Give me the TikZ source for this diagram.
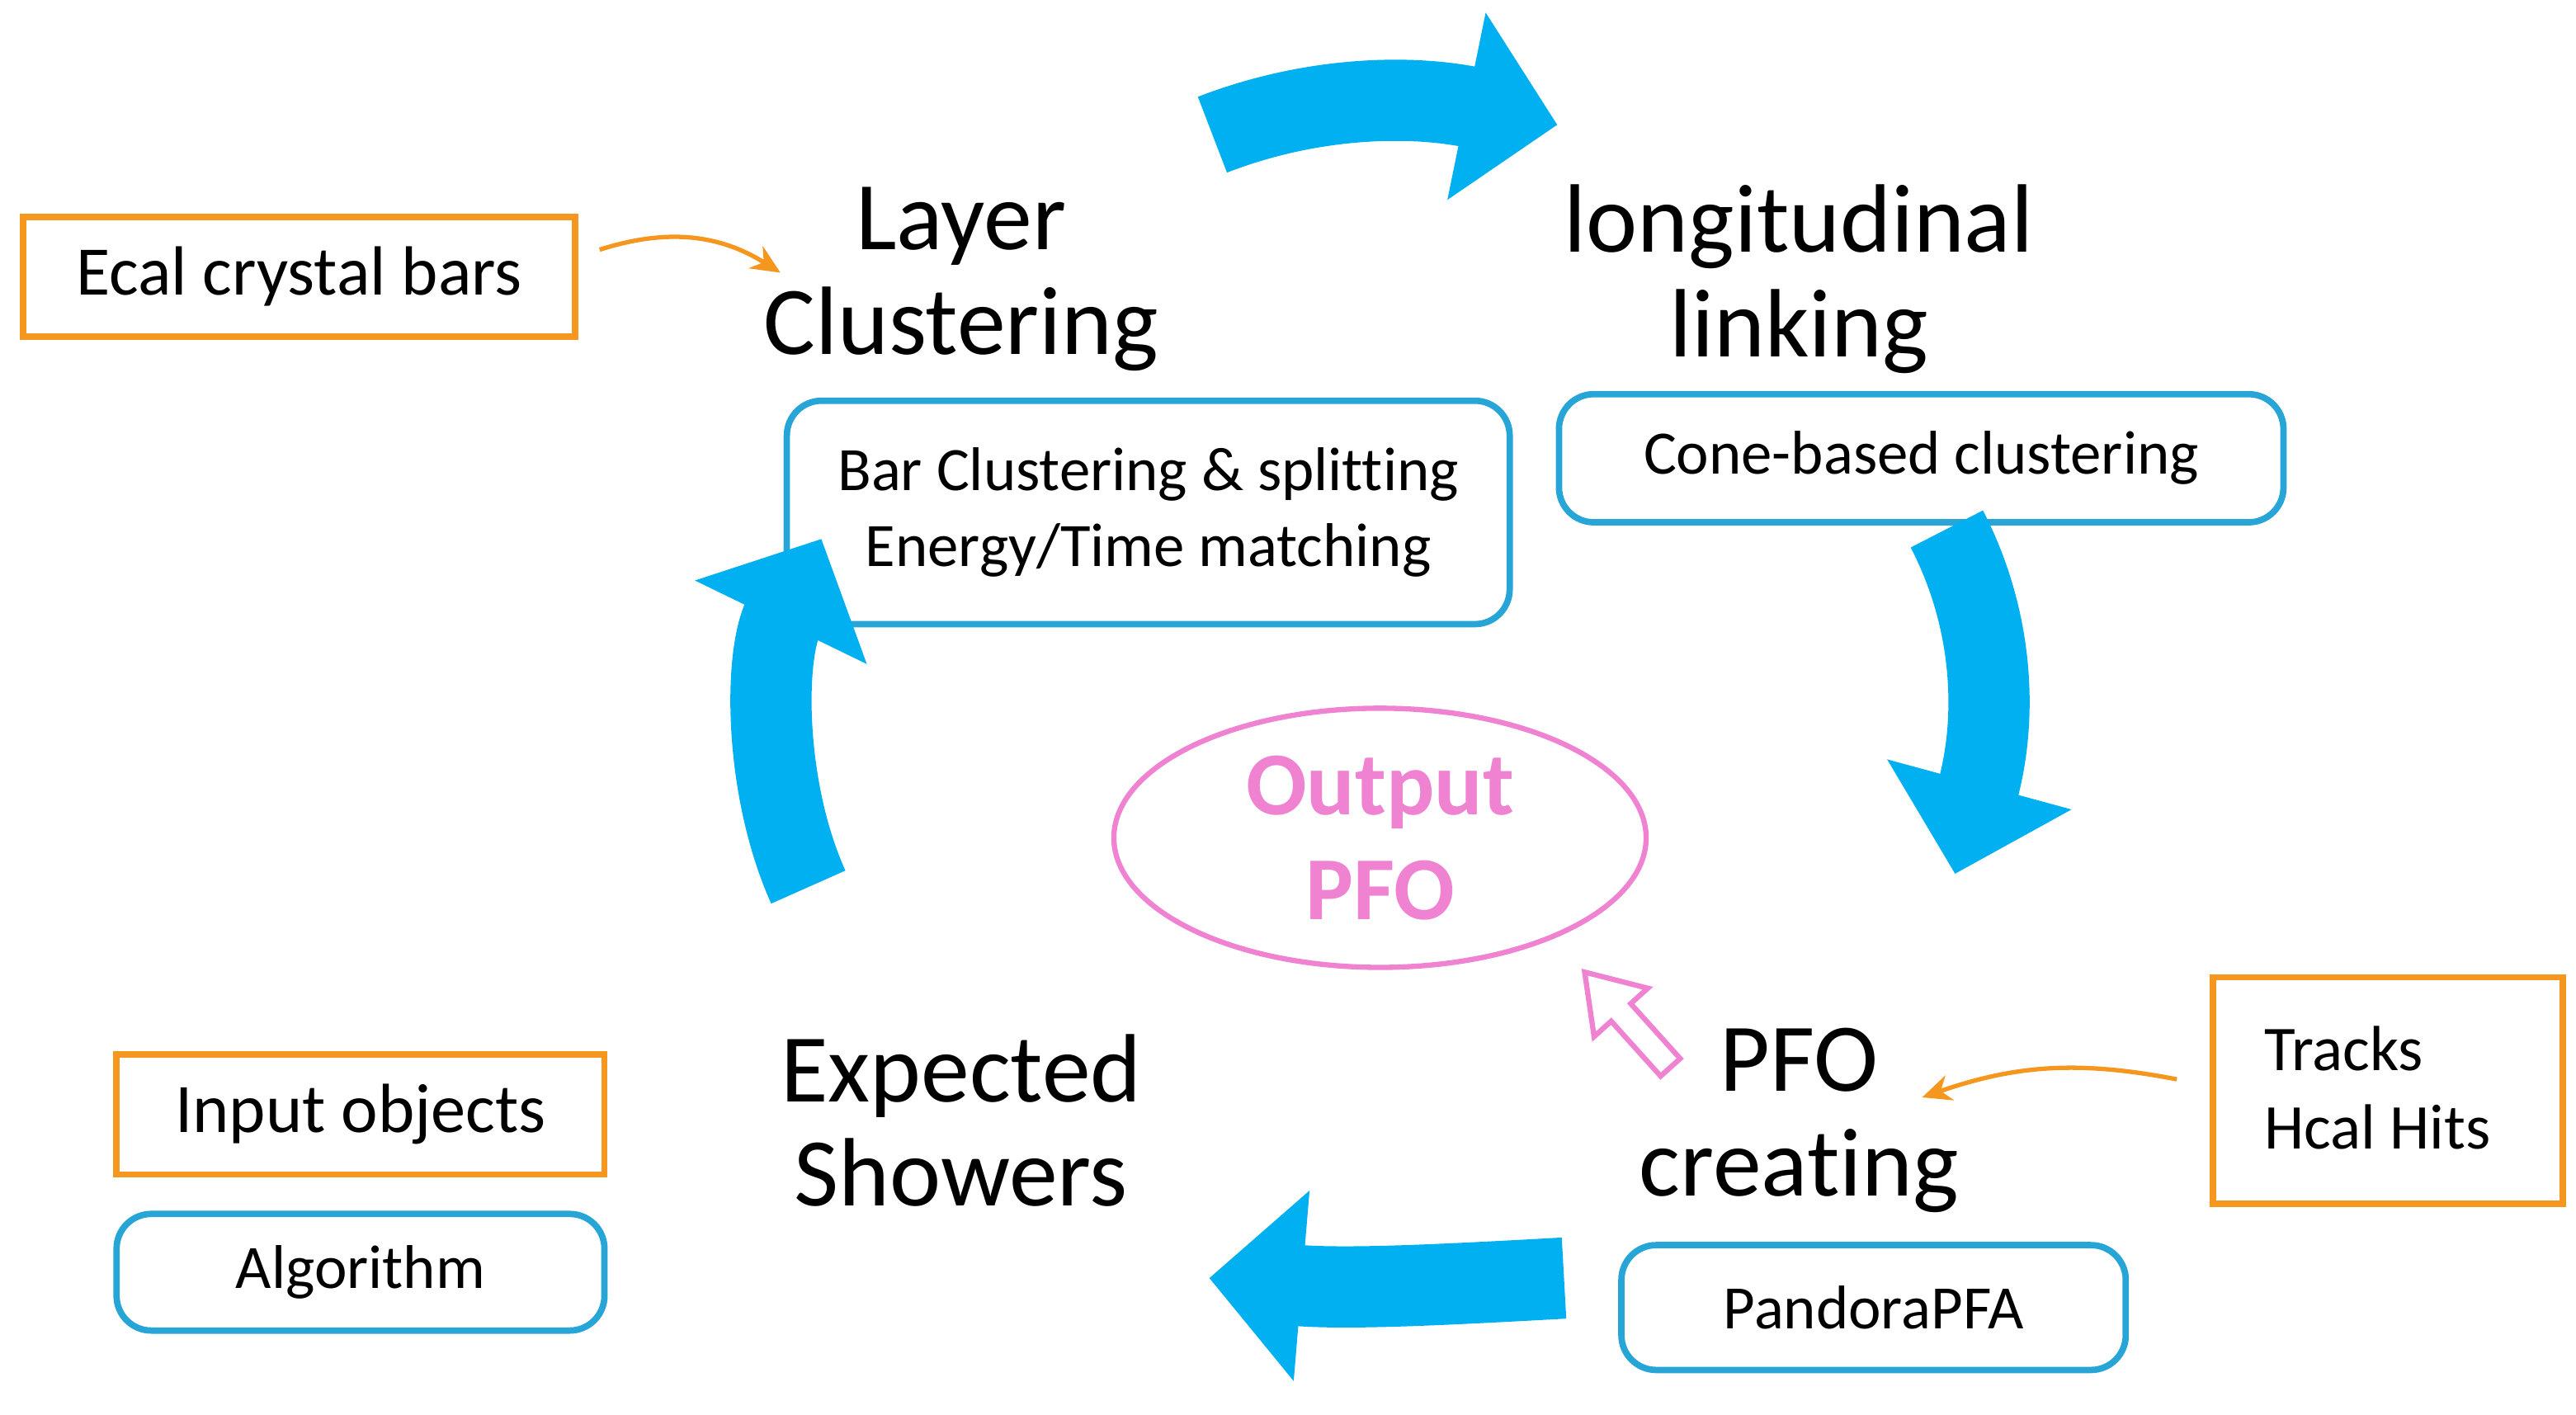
\documentclass[tikz,border=0pt]{standalone}
\usepackage{fontspec}
\setmainfont{Carlito}[Ligatures=NoCommon]
\usetikzlibrary{arrows.meta,shapes.geometric}
\definecolor{bfill}{RGB}{0,176,240}
\definecolor{cbox}{RGB}{40,165,215}
\definecolor{obox}{RGB}{245,150,30}
\definecolor{pk}{RGB}{240,130,210}
\begin{document}
\begin{tikzpicture}[x=0.01991cm,y=-0.01991cm,
 title/.style={align=center,font=\fontsize{33.5}{36}\selectfont},
 algo/.style={draw=cbox,line width=2.2pt,rounded corners=12pt,font=\fontsize{21.3}{26}\selectfont,align=center},
 inp/.style={draw=obox,line width=2.2pt,font=\fontsize{24}{27}\selectfont},
 big/.style={draw=bfill,line width=28pt,-{Triangle[width=64pt,length=32pt]}},
 oarr/.style={draw=obox,line width=1.5pt,-{Stealth[length=10pt,width=9pt]}}]
\useasboundingbox (0,0) rectangle (1568,861);
% boxes
\node[inp,anchor=north west,inner sep=0pt,minimum height=73*0.01991cm,minimum width=336*0.01991cm] (ecal) at (12,130) {Ecal crystal bars};
\node[algo,anchor=north west,minimum width=440*0.01991cm,minimum height=136*0.01991cm,inner sep=0pt] (lbox) at (477,242) {Bar Clustering \& splitting\\Energy/Time matching};
\node[algo,anchor=north west,minimum width=441*0.01991cm,minimum height=78*0.01991cm,inner sep=0pt] (cbx) at (947,238) {Cone-based clustering};
\node[algo,anchor=north west,minimum width=307*0.01991cm,minimum height=76*0.01991cm,inner sep=0pt] (pbx) at (985,756) {PandoraPFA};
\node[inp,anchor=north west,minimum width=297*0.01991cm,minimum height=73*0.01991cm,inner sep=0pt] (inobj) at (69,640) {Input objects};
\node[algo,anchor=north west,minimum width=297*0.01991cm,minimum height=71*0.01991cm,inner sep=0pt] (alg) at (69,737) {Algorithm};
\node[inp,anchor=north west,minimum width=213*0.01991cm,minimum height=138*0.01991cm,inner sep=0pt] (trk) at (1345,593) {};
\node[anchor=west,align=left,font=\fontsize{22}{27}\selectfont,inner sep=0pt] (trkt) at (1378,662) {Tracks\\Hcal Hits};
% titles
\node[title] (lc) at (585,170) {Layer\\Clustering};
\node[title] (ll) at (1095,170) {longitudinal\\linking};
\node[title] (pc) at (1095,682) {PFO\\creating};
\node[title] (es) at (585,682) {Expected\\Showers};
% ellipse
\node[ellipse,draw=pk,line width=1.8pt,minimum width=324*0.01991cm,minimum height=126*0.01991cm,text=pk,font=\bfseries\fontsize{31}{36}\selectfont,align=center] (out) at (840,510) {Output\\PFO};
% big arrows
\coordinate (a1s) at (738,82); \coordinate (a1e) at (948,76);
\draw[big] (a1s) .. controls (800,58) and (860,58) .. (a1e);
\coordinate (a2s) at (1185,322); \coordinate (a2e) at (1190,532);
\draw[big] (a2s) .. controls (1215,380) and (1215,440) .. (a2e);
\coordinate (a3s) at (952,778); \coordinate (a3e) at (736,778);
\draw[big] (a3s) .. controls (880,782) and (820,785) .. (a3e);
\coordinate (a4s) at (492,540) ; \coordinate (a4e) at (500,328);
\draw[big] (a4s) .. controls (465,480) and (465,400) .. (a4e);
% orange arrows
\coordinate (o1) at (365,152); \coordinate (o1e) at (475,166);
\draw[oarr] (o1) to[bend left=25] (o1e);
\coordinate (o2) at (1325,657); \coordinate (o2e) at (1170,668);
\draw[oarr] (o2) to[bend right=15] (o2e);
% pink hollow arrow
\begin{scope}[shift={(990,620)},rotate=132]
\draw[pk,line width=1.8pt,fill=white,x=0.01991cm,y=0.01991cm]
 (-40,-8) -- (5,-8) -- (5,-22) -- (38,0) -- (5,22) -- (5,8) -- (-40,8) -- cycle;
\end{scope}
\end{tikzpicture}
\end{document}
